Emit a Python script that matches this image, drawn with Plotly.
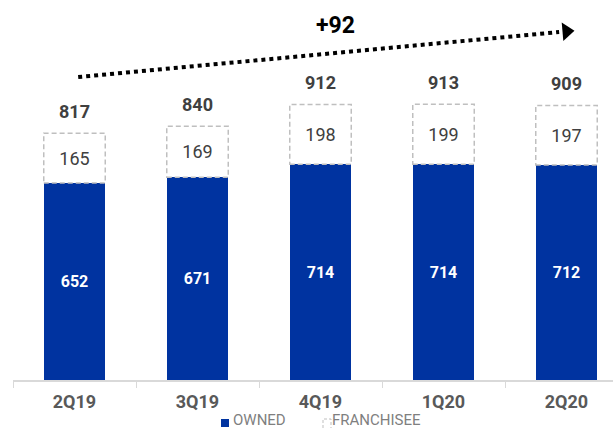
import plotly.graph_objects as go

quarters = ["2Q19", "3Q19", "4Q19", "1Q20", "2Q20"]
owned = [652, 671, 714, 714, 712]
franchisee = [165, 169, 198, 199, 197]
totals = [o + f for o, f in zip(owned, franchisee)]

BLUE = "#0033A0"
DASH_GRAY = "#BFBFBF"
TEXT_DARK = "#404040"
FONT = "Roboto"

W, H = 613, 428
ML, MR, MT, MB = 13, 0, 0, 48
plot_w = W - ML - MR
plot_h = H - MT - MB
cat_px = 123.0          # width of one category in pixels
y_max = 1258            # top of the value axis

def px_x(p):
    return (p - ML) / plot_w

def px_y(p):
    return (H - MB - p) / plot_h

fig = go.Figure()

fig.add_trace(go.Bar(
    x=quarters, y=owned, name="OWNED",
    marker=dict(color=BLUE, line=dict(width=0)),
    text=[str(v) for v in owned], textposition="inside",
    insidetextanchor="middle",
    textfont=dict(family=FONT, size=16, color="white", weight="bold"),
    showlegend=False,
))
fig.add_trace(go.Bar(
    x=quarters, y=franchisee, name="FRANCHISEE",
    marker=dict(color="white", line=dict(width=0)),
    text=[str(v) for v in franchisee], textposition="inside",
    insidetextanchor="middle",
    textfont=dict(family=FONT, size=18, color=TEXT_DARK),
    showlegend=False,
))

half = 0.25
shapes = []
for i, (o, t) in enumerate(zip(owned, totals)):
    shapes.append(dict(
        type="rect", xref="x", yref="y",
        x0=i - half, x1=i + half, y0=o, y1=t,
        line=dict(color=DASH_GRAY, width=1.5, dash="5px,3px"),
        fillcolor="rgba(0,0,0,0)", layer="above",
    ))

annotations = []
for i, t in enumerate(totals):
    annotations.append(dict(
        x=i, y=t, xref="x", yref="y", text=str(t), showarrow=False,
        yanchor="middle", yshift=22,
        font=dict(family=FONT, size=18, color=TEXT_DARK, weight="bold"),
    ))

# Growth trend arrow from first to last quarter
x_start, x_end = 0.03, 3.94
y_start, y_end = 1003, 1152
fig.add_trace(go.Scatter(
    x=[x_start, x_end], y=[y_start, y_end], mode="lines",
    line=dict(color="black", width=4, dash="dot"),
    xaxis="x2", hoverinfo="skip", showlegend=False,
))
fig.add_trace(go.Scatter(
    x=[4.0], y=[1154], mode="markers",
    marker=dict(symbol="triangle-right", size=16, color="black", angle=-5),
    xaxis="x2", hoverinfo="skip", showlegend=False,
))
annotations.append(dict(
    x=2.12, y=1175, xref="x2", yref="y", text=f"+{totals[-1] - totals[0]}",
    showarrow=False, yanchor="middle",
    font=dict(family=FONT, size=23, color="black", weight="bold"),
))

# Legend
LEG_Y = px_y(419.5)
shapes.append(dict(
    type="rect", xref="paper", yref="paper",
    x0=px_x(221), x1=px_x(229), y0=px_y(427), y1=px_y(419),
    line=dict(width=0), fillcolor=BLUE,
))
annotations.append(dict(
    x=px_x(231), y=LEG_Y, xref="paper", yref="paper", text="OWNED",
    showarrow=False, xanchor="left", yanchor="middle",
    font=dict(family=FONT, size=15, color="#7F7F7F"),
))
shapes.append(dict(
    type="rect", xref="paper", yref="paper",
    x0=px_x(323), x1=px_x(331), y0=px_y(432), y1=px_y(419),
    line=dict(color=DASH_GRAY, width=1, dash="3px,2px"),
    fillcolor="white",
))
annotations.append(dict(
    x=px_x(330), y=LEG_Y, xref="paper", yref="paper", text="FRANCHISEE",
    showarrow=False, xanchor="left", yanchor="middle",
    font=dict(family=FONT, size=15, color="#7F7F7F"),
))

x_hi = -0.5 + plot_w / cat_px
fig.update_layout(
    width=W, height=H,
    margin=dict(l=ML, r=MR, t=MT, b=MB),
    paper_bgcolor="white", plot_bgcolor="white",
    barmode="stack", bargap=0.5,
    shapes=shapes, annotations=annotations,
    xaxis=dict(
        range=[-0.5, x_hi], showgrid=False, zeroline=False,
        showline=True, linecolor="#D9D9D9", linewidth=1.5,
        ticks="outside", tickson="boundaries", ticklen=6, tickcolor="#D9D9D9",
        ticklabelstandoff=5,
        tickfont=dict(family=FONT, size=18, color="#595959", weight="bold"),
        fixedrange=True,
    ),
    xaxis2=dict(
        range=[-0.5, x_hi], overlaying="x", visible=False, fixedrange=True,
    ),
    yaxis=dict(range=[0, y_max], visible=False, fixedrange=True),
    uniformtext=dict(mode=False),
)

fig.write_html("out.html")
